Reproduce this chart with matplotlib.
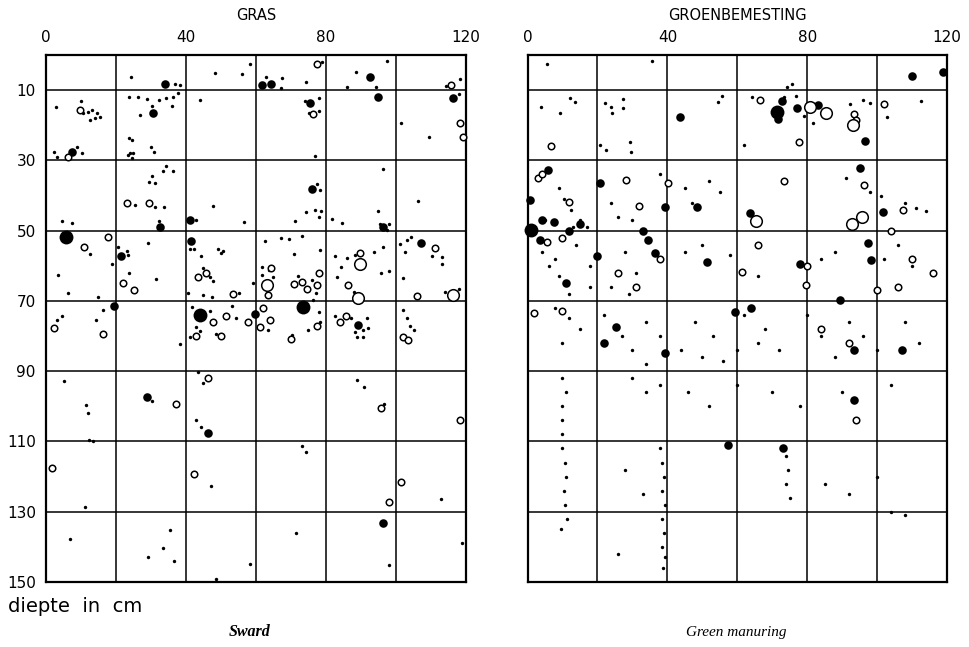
import numpy as np
import matplotlib.pyplot as plt

# GRAS (sward) - (x cm, depth cm)
gras_dots = [(24.4,6.3),(37,8.3),(38.4,8.5),(48.4,5.1),(56.1,5.4),(58.4,2.6),(63,6.3),(67.6,6.5),(74.4,7.7),(67.3,9.4),
    (79,2),(88.7,4.8),(97.3,1.7),(86.1,9.1),(118.4,6.8),(114.4,8.8),
    (3,14.8),(10.7,16.5),(12.1,16.2),(13.3,15.7),(14.7,16.5),(14.1,17.9),(15.6,17.6),(12.7,18.5),(10.1,13.1),
    (2.4,27.6),(3.3,29),(9,26.2),(10.4,27.9),(23.9,12),(26.4,12),(29,12.5),(32.4,12.8),(34.4,12.2),(36.4,12),(37.9,10.8),
    (27,17.1),(30.4,14.5),(36.1,14.5),(23.9,23.6),(24.7,24.2),(30.1,26.2),(31,27.6),(23.6,28.5),(24.1,27.9),(25,27.9),(24.7,29.3),
    (44.1,12.8),(73.9,13.1),(78.1,12.2),(75.3,16.5),(77.9,15.9),(94.4,9.1),(118.1,11.1),(101.3,19.4),(109.3,23.3),(77,28.8),
    (34.4,31.6),(33.6,33),(36.4,33),(30.4,34.4),(29.6,36.2),(31.3,36.4),(25.6,42.7),(31.3,43.3),(33.9,43.3),(4.7,47.3),(7.6,47.8),
    (32.4,47.3),(43,47),(47.9,43),(77.6,36.7),(78.4,38.4),(96.4,32.5),(106.4,41.6),(56.7,47.5),(71.3,47.3),(74.4,44.7),(77,44.1),
    (78.7,44.4),(78.1,46.1),(81.6,46.7),(84.7,47.8),(95,44.4),(95.3,48.1),(97.9,48.1),(97.3,49.8),
    (12.7,56.6),(19,59.5),(3.6,62.6),(20.7,54.7),(23.3,55.8),(23.6,56.9),(23.9,62.1),(29.3,53.5),(31.6,63.8),(41.3,55.2),(42.4,55.2),
    (44.4,57.2),(49.3,55.2),(50.1,56.4),(50.7,55.8),(45,60.6),(47.9,64.3),(47,63.2),(55.3,67.7),(6.4,67.7),(15,68.9),(40.7,67.7),
    (45,68.3),(47.6,68.9),(62.7,52.9),(67.3,52.1),(69.6,52.4),(73.3,51.5),(71,56.6),(78.4,55.5),(82.7,57.2),(85.9,57.8),(88.4,56.9),
    (93.6,56.1),(96.4,54.7),(83.3,63.2),(84.4,60.3),(95.6,62.1),(98.1,61.5),(87.9,67.5),(89.3,68.9),(101,53.8),(103,52.7),(104.4,51.8),
    (102.7,56.1),(110.4,57.2),(113,57.5),(113,59.5),(102.1,63.5),(113.9,67.5),(118.1,66.6),(61.9,60.3),(63.9,61.2),(65,63.2),
    (61.9,62.6),(59.3,64.9),(76.1,64),(72.1,62.9),(77.3,67.7),
    (3.3,75.4),(4.7,74.3),(14.4,75.4),(16.4,72.6),(41.9,71.7),(47,72.8),(43,77.4),(44.1,78.6),(48.7,79.4),(41.3,80.3),(53.3,71.4),
    (54.4,74.9),(38.4,82.3),(63.6,78.3),(76.4,69.7),(77.9,73.2),(78.4,76),(75,78.3),(70.4,79.7),(82.7,74.3),(87.3,74.9),(91.6,74.9),
    (88.3,78.8),(90.6,78.3),(92.1,77.7),(89,80.3),(90.7,80.3),(101.9,72.6),(103,74.9),(103.9,77.1),(105,78.3),
    (5.3,92.8),(11.6,99.6),(12.1,101.9),(12.4,109.6),(13.6,109.9),(30.4,98.5),(45,93.4),(43.6,90.2),(43,103.9),(44.4,105.9),
    (89,92.5),(91,94.5),(96.7,99.3),(73.3,111.3),(74.4,113),(112.7,126.4),(11.3,128.7),(47.3,122.7),
    (7,137.8),(35.6,135.2),(33.6,140.3),(29.3,142.9),(36.7,144),(48.7,149.2),(58.4,144.9),(71.6,136.1),(97.9,145.2),(118.7,138.9)]
gras_filled_s = [(34.1,8.3),(61.9,8.5),(64.4,8.3),(92.7,6.3),(7.6,27.6),(30.7,16.5),(75.6,13.7),(95,12),(116.4,12.2),
    (32.7,49),(41.3,47),(76.1,38.1),(96.4,49),(21.6,57.2),(41.6,52.9),(107,53.5),(19.6,71.4),(59.9,73.7),(89.3,76.9),
    (29,97.4),(46.4,107.6),(96.4,133.2)]
gras_filled_l = [(5.9,51.8),(44.1,74),(73.6,71.7)]
gras_open_s = [(77.6,2.6),(115.6,8.5),(9.9,15.7),(6.4,29),(76.4,16.8),(118.4,19.4),(119,23.3),(23.3,42.1),(29.6,42.1),
    (17.9,51.8),(11,54.7),(22.1,64.9),(25.3,66.9),(43.6,63.2),(45.9,62.1),(53.6,68),(89.6,56.4),(86.4,65.5),(111,54.9),
    (106.1,68.6),(64.4,60.6),(63.6,68.3),(71,65.2),(73.3,64.6),(74.7,66.6),(77.6,65.5),(78.1,62.1),
    (2.4,77.7),(16.4,79.4),(47.9,76),(51.6,74.3),(43,80),(50.1,80),(57.9,76),(62.1,72),(64.1,75.4),(61.3,77.4),(77.6,77.1),
    (69.9,80.8),(83.9,76),(85.6,74.3),(102.1,80.3),(103.3,81.1),(37.3,99.3),(46.4,91.9),(95.6,100.5),(118.4,103.9),
    (1.9,117.6),(42.4,119.3),(101.3,121.5),(98.1,127.2)]
gras_open_l = [(89.6,59.5),(116.4,68.3),(63.3,65.5),(89.3,69.2)]

# GROENBEMESTING (green manuring)
groen_dots = [(5.6,2.6),(35.6,1.7),(74.1,9.1),(75.6,8.3),(3.9,14.8),(12.1,12.2),(13.6,13.4),(9.3,16.5),(22.1,13.7),(23.9,14.8),
    (27.3,12.5),(27.3,15.1),(24.1,16.5),(54.4,13.4),(55.6,11.7),(64.1,12),(73.3,12),(76.7,11.7),(79,17.4),(81.6,19.4),(92.1,14),
    (96,12.8),(97.9,13.7),(102.7,17.6),(112.4,13.1),(20.7,25.6),(22.4,27),(29.6,27.6),(29.3,24.8),(61.9,25.6),
    (9,38),(10.4,41),(12.4,44),(15,47),(5,47),(8,48),(13,49),(17,49),(24,42),(26,46),(30,47),(38,34),(45,38),(47,42),(52,36),(55,39),
    (91,35),(98,39),(101,40),(108,42),(111,43.5),(114,44.5),(4,56),(8,58),(14,54),(18,60),(28,56),(31,62),(45,56),(50,54),
    (58,57),(66,63),(84,58),(88,56),(102,58),(106,54),(110,60),(6,60),(9,63),(12,68),(18,66),(24,66),(29,68),
    (8,72),(12,75),(15,78),(10,82),(22,74),(27,80),(34,76),(38,80),(44,84),(48,76),(53,80),(56,87),(62,74),(68,78),(72,84),
    (80,74),(84,80),(88,86),(96,80),(100,84),(108,76),(112,82),(30,84),(34,88),(50,86),(60,84),(66,82),(92,76),
    (10,92),(11,96),(10,100),(10,104),(10,108),(30,92),(34,96),(38,94),(46,96),(52,100),(60,94),(70,96),(78,100),(90,96),(104,94),
    (10,112),(10.6,116),(11,120),(10.4,124),(10.8,128),(11.4,132),(9.6,135),(28,118),(33,125),(38,112),(38.6,116),(39,120),(38.4,124),
    (39.2,128),(38.6,132),(39,136),(38.4,140),(39.4,143),(38.8,146),(74,114),(74.6,118),(74,122),(75,126),(85,122),(92,125),(100,120),
    (104,130),(108,131),(26,142)]
groen_filled_s = [(110.1,6),(118.7,4.8),(43.6,17.6),(72.7,13.1),(71.6,18.2),(77,15.1),(83,14.2),(96.4,24.5),(5.9,32.7),
    (0.7,41.3),(20.7,36.4),(39.3,43.3),(48.4,43.3),(95,32.2),(101.6,44.7),(63.6,45),(4,47),(7.5,47.5),(12,50),(3.6,52.7),
    (19.9,57.2),(34.4,52.7),(36.4,56.4),(51.3,58.9),(77.9,59.5),(98.1,58.4),(97.3,53.5),(25.3,77.4),(39.3,84.8),(59.3,73.2),
    (89.3,69.7),(93.3,84),(107,84),(93.3,98.2),(57.3,111),(73,111.9),(11,65),(22,82),(64,72),(15,48),(33,50)]
groen_filled_l = [(71.3,16.2),(1,49.8)]
groen_open_s = [(66.4,12.8),(93.3,16.8),(93.9,18.5),(101.9,14),(6.7,25.9),(77.6,24.8),(3,35),(11.9,41.8),(28.1,35.6),
    (31.9,43),(40.1,36.4),(73.3,35.9),(96.1,37),(107.4,44.1),(5.6,53.2),(61.3,61.8),(79.6,65.5),(1.9,73.4),(10,73),(26,62),
    (38,58),(66,54),(80,60),(104,50),(110,58),(116,62),(84,78),(92,82),(100,67),(94,104),(4,34),(10,52),(31,66),(106,66)]
groen_open_l = [(80.7,14.8),(85.3,16.5),(93,19.9),(92.7,48.1),(95.6,46.1),(65.3,47.3)]

fig = plt.figure(figsize=(9.69, 6.47), dpi=100)
ax1 = fig.add_axes([0.047, 0.1005, 0.434, 0.8145])
ax2 = fig.add_axes([0.5444, 0.1005, 0.433, 0.8145])

def draw(ax, dots, fs, fl, os_, ol, title, showy):
    for pts, kw in [(dots, dict(s=6, c='black', marker='o', linewidths=0)),
                    (fs, dict(s=38, c='black', marker='o', linewidths=0)),
                    (fl, dict(s=100, c='black', marker='o', linewidths=0)),
                    (os_, dict(s=22, facecolors='white', edgecolors='black', marker='o', linewidths=1.1)),
                    (ol, dict(s=70, facecolors='white', edgecolors='black', marker='o', linewidths=1.1))]:
        a = np.array(pts)
        ax.scatter(a[:, 0], a[:, 1], zorder=3, clip_on=False, **kw)
    ax.set_xlim(0, 120)
    ax.set_ylim(150, 0)
    ax.xaxis.tick_top()
    ax.set_xticks([0, 40, 80, 120])
    ax.set_xticks([20, 60, 100], minor=True)
    ax.set_yticks(np.arange(10, 151, 20))
    ax.tick_params(which='both', length=0, labelsize=11, pad=7)
    if not showy:
        ax.set_yticklabels([])
    for v in range(20, 120, 20):
        ax.axvline(v, color='black', lw=1.1, zorder=1)
    for v in range(10, 140, 20):
        ax.axhline(v, color='black', lw=1.1, zorder=1)
    for s in ax.spines.values():
        s.set_linewidth(1.6)
    ax.set_title(title, fontsize=10.5, pad=25)

draw(ax1, gras_dots, gras_filled_s, gras_filled_l, gras_open_s, gras_open_l, 'GRAS', True)
draw(ax2, groen_dots, groen_filled_s, groen_filled_l, groen_open_s, groen_open_l, 'GROENBEMESTING', False)

fig.text(0.008, 0.062, 'diepte  in  cm', fontsize=14, ha='left', va='center')
fig.text(0.258, 0.023, 'Sward', fontsize=11.5, ha='center', va='center', family='Liberation Serif', style='italic', weight='bold')
fig.text(0.760, 0.023, 'Green manuring', fontsize=11, ha='center', va='center', family='Liberation Serif', style='italic')

fig.savefig('out.png', dpi=100)
